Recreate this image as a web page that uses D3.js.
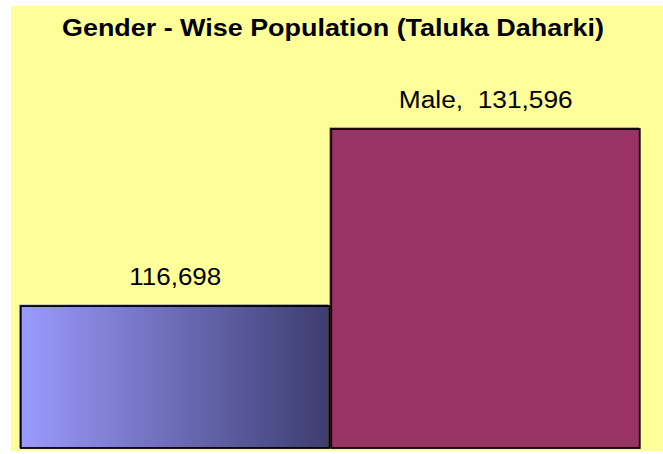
<!DOCTYPE html>
<html>
<head>
<meta charset="utf-8">
<script src="https://cdn.jsdelivr.net/npm/d3@7"></script>
<style>
  html, body { margin: 0; padding: 0; background: #ffffff; }
  svg { display: block; }
  text { font-family: "Liberation Sans", Arial, sans-serif; }
</style>
</head>
<body>
<div id="chart"></div>
<script>
// ---- data ----
const title = "Gender - Wise Population (Taluka Daharki)";
const categories = ["Female", "Male"];
const values = [116698, 131596];
const showCategoryInLabel = [false, true];
const yDomain = [104750, 135000];

// ---- layout ----
const W = 663, H = 454;
const svg = d3.select("#chart").append("svg").attr("width", W).attr("height", H);

const defs = svg.append("defs");
const grad = defs.append("linearGradient").attr("id", "femaleGrad")
  .attr("x1", "0%").attr("x2", "100%").attr("y1", "0%").attr("y2", "0%");
grad.append("stop").attr("offset", "0%").attr("stop-color", "#9b9bff");
grad.append("stop").attr("offset", "100%").attr("stop-color", "#3d3d70");

const fills = ["url(#femaleGrad)", "#993366"];

// chart area background
svg.append("rect").attr("x", 11).attr("y", 6).attr("width", W - 11).attr("height", 445)
  .attr("fill", "#ffff99");

const x = d3.scaleBand().domain(categories).range([20, 641]).paddingInner(0).paddingOuter(0);
const y = d3.scaleLinear().domain(yDomain).range([448, 88.6]);

const data = categories.map((c, i) => ({ c, v: values[i], i }));

const bars = svg.append("g");
bars.selectAll("rect.fill").data(data).enter().append("rect")
  .attr("class", "fill")
  .attr("x", d => x(d.c) - 1)
  .attr("y", d => y(d.v) - 1.5)
  .attr("width", d => x.bandwidth() - 1)
  .attr("height", d => y(yDomain[0]) - y(d.v) + 1.5)
  .attr("fill", d => fills[d.i]);
bars.selectAll("rect.edge").data(data).enter().append("rect")
  .attr("class", "edge")
  .attr("x", d => x(d.c) + 0.75)
  .attr("y", d => y(d.v))
  .attr("width", d => x.bandwidth() - 2)
  .attr("height", d => y(yDomain[0]) - y(d.v))
  .attr("fill", "none")
  .attr("stroke", "#000")
  .attr("stroke-width", 1.8);

// labels
const fmt = d3.format(",");
const labelLen = [92, 174];
svg.append("g").selectAll("text").data(data).enter().append("text")
  .attr("x", d => x(d.c) + x.bandwidth() / 2)
  .attr("y", d => y(d.v) - 21)
  .attr("text-anchor", "middle")
  .attr("font-size", 23)
  .attr("fill", "#000")
  .style("white-space", "pre")
  .attr("textLength", d => labelLen[d.i])
  .attr("lengthAdjust", "spacingAndGlyphs")
  .text(d => (showCategoryInLabel[d.i] ? d.c + ",  " : "") + fmt(d.v));

// title
svg.append("text")
  .attr("x", 333).attr("y", 35.5)
  .attr("text-anchor", "middle")
  .attr("font-size", 24)
  .attr("font-weight", "bold")
  .attr("fill", "#000")
  .attr("textLength", 542)
  .attr("lengthAdjust", "spacingAndGlyphs")
  .text(title);
</script>
</body>
</html>
